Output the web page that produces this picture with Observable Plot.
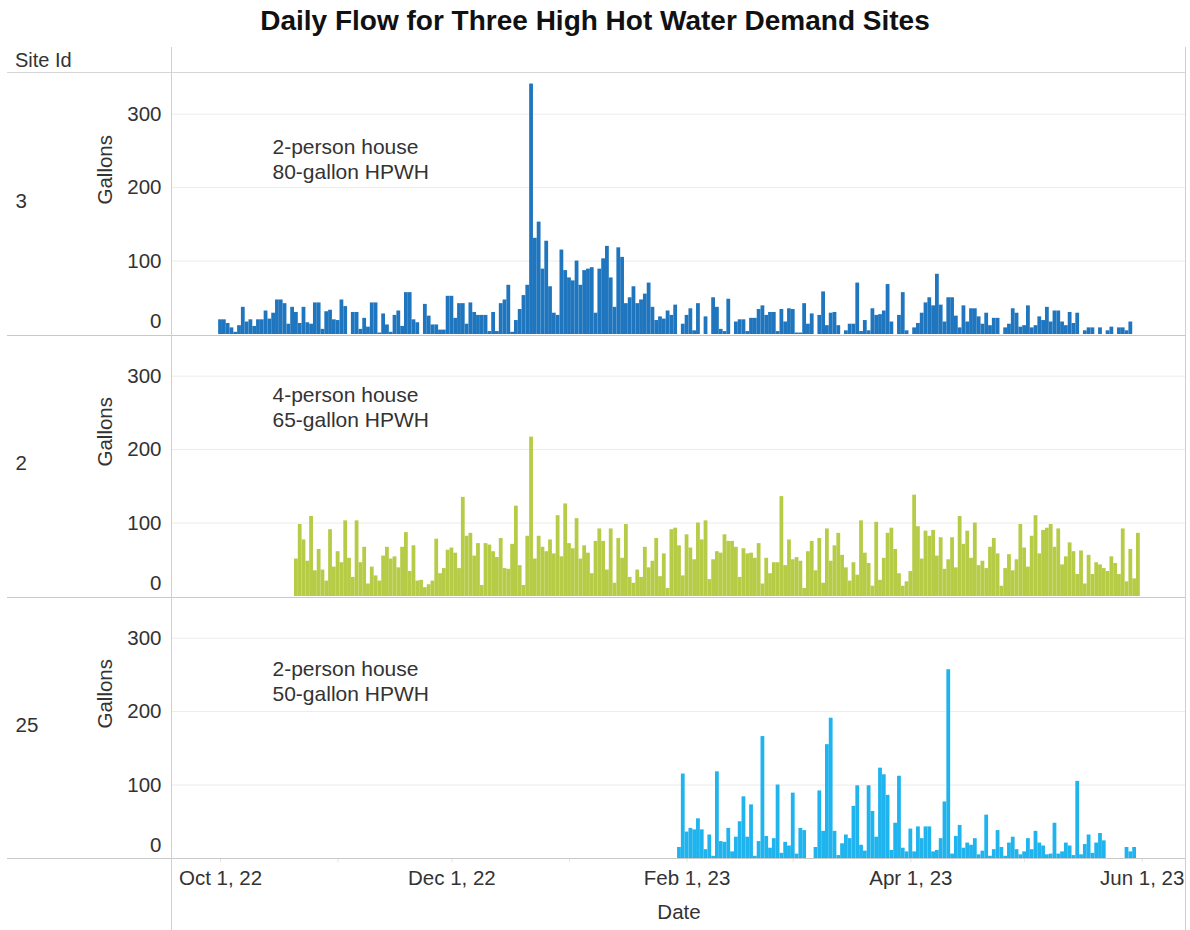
<!DOCTYPE html>
<html>
<head>
<meta charset="utf-8">
<script src="https://cdn.jsdelivr.net/npm/d3@7"></script>
<script src="https://cdn.jsdelivr.net/npm/@observablehq/plot@0.6"></script>
<style>
  html, body { margin: 0; padding: 0; background: #fff; }
  #title { box-sizing: border-box; height: 45px; padding-top: 5px; line-height: 43px; text-align: center;
           font: bold 28px "Liberation Sans", Arial, sans-serif; color: #111; overflow: hidden; }
  #chart svg { display: block; }
</style>
</head>
<body>
<div id="title">Daily Flow for Three High Hot Water Demand Sites</div>
<div id="chart"></div>
<script>
// ---------- data ----------
const siteIds = ["3", "2", "25"];
const siteStarts = ["2022-10-01", "2022-10-21", "2023-01-30"];
const siteColors = ["#1f76be", "#b6cc47", "#20b4ee"];
const siteNotes = ["2-person house\n80-gallon HPWH", "4-person house\n65-gallon HPWH", "2-person house\n50-gallon HPWH"];

// daily gallons, one value per day from the site's start date (null = no reading)
const site3Gallons = [
  20,20,15,9,3,12,37,17,20,11,
  20,20,32,21,29,47,47,42,14,37,
  30,15,37,16,14,43,43,7,31,33,
  20,19,47,38,null,30,30,7,22,10,
  43,43,2,28,13,3,26,32,11,57,
  57,20,16,null,41,25,13,13,6,6,
  52,52,22,42,42,14,43,30,26,26,
  26,4,30,4,42,47,67,3,19,34,
  53,67,341,131,153,89,127,65,29,26,
  115,87,77,73,100,67,87,89,91,29,
  89,103,120,77,37,118,105,42,50,65,
  42,47,55,70,37,19,24,21,32,26,
  40,null,14,26,35,5,42,null,24,null,
  50,37,7,4,48,null,17,20,20,4,
  22,22,34,39,26,30,30,4,34,17,35,
  34,2,2,42,14,28,null,26,58,12,
  29,30,12,
  null,5,14,14,70,4,19,5,35,26,
  27,32,68,17,null,26,57,5,null,9,
  15,29,43,50,39,82,40,17,50,50,
  25,9,39,17,35,35,24,14,29,12,
  22,22,null,9,14,35,29,10,12,39,
  9,12,24,19,37,17,32,32,17,12,
  30,15,29,null,5,9,9,null,9,null,
  5,10,null,9,9,5,17
];
const site2Gallons = [
  51,98,77,48,109,35,64,36,21,91,
  40,61,46,103,52,26,103,46,67,17,
  40,28,21,55,67,51,54,39,67,87,
  34,69,21,22,12,16,21,78,31,38,
  63,66,59,38,135,82,86,55,72,15,
  72,70,61,53,79,38,37,71,123,42,
  15,82,217,51,82,67,61,77,58,110,
  54,126,72,65,106,51,69,59,31,75,
  92,75,36,92,18,79,52,98,26,18,
  36,26,67,39,48,79,27,58,11,91,
  93,69,28,84,66,50,100,77,103,23,
  50,61,59,84,75,75,67,26,65,58,
  59,52,72,17,52,31,46,46,
  136,42,77,
  50,53,48,11,61,75,35,79,18,92,
  48,69,86,56,39,21,46,29,103,59,
  45,14,101,22,52,86,93,64,31,14,
  20,34,138,95,51,89,82,90,55,80,
  37,50,80,39,109,71,89,52,100,42,
  48,38,67,79,58,14,38,57,35,50,
  98,66,40,82,110,58,90,93,98,67,
  92,43,54,73,61,30,62,17,56,30,
  46,43,38,34,54,45,30,92,20,64,
  24,86
];
const site25Gallons = [
  15,115,36,41,39,54,39,12,32,3,
  118,23,22,41,9,29,50,84,29,73,
  3,23,166,30,14,27,100,7,22,17,
  89,6,41,38,null,null,15,92,37,155,
  191,37,4,20,32,27,71,99,18,10,
  99,64,29,123,114,86,11,48,112,14,
  9,40,9,43,27,43,43,9,11,27,
  77,257,6,30,45,14,21,18,27,5,
  10,59,3,12,38,15,3,21,29,12,
  5,9,27,12,37,21,17,5,6,48,
  6,9,21,17,4,105,5,19,32,7,
  21,34,24,null,null,null,null,null,15,9,
  15
];

const yTicks = [0, 100, 200, 300];
const xLabelDates = ["2022-10-01", "2022-12-01", "2023-02-01", "2023-04-01", "2023-06-01"];
const xDomain = ["2022-09-18T08:00:00Z", "2023-06-12T10:00:00Z"];

// ---------- table ----------
const DAY = 864e5;
const seriesList = [site3Gallons, site2Gallons, site25Gallons];
const rows = [];
siteIds.forEach((id, i) => {
  const start = new Date(siteStarts[i] + "T00:00:00Z");
  seriesList[i].forEach((v, k) => {
    if (v != null) rows.push({site: id, date: new Date(+start + k * DAY), gallons: v});
  });
});

// ---------- chart ----------
const FONT = '"Liberation Sans", Arial, sans-serif';
const fmt = d3.utcFormat("%b %-d, %y");
const noteDy = [61, 47, 59];

const plot = Plot.plot({
  width: 1190,
  height: 885,
  marginLeft: 172,
  marginRight: 5,
  marginTop: 28,
  marginBottom: 71,
  style: {fontFamily: FONT, fontSize: "20px", color: "#333", background: "#fff", overflow: "visible"},
  x: {type: "utc", domain: xDomain.map(d => new Date(d))},
  y: {domain: [0, 354]},
  fy: {domain: siteIds, axis: null, paddingInner: 0.0095, paddingOuter: 0},
  color: {domain: siteIds, range: siteColors},
  marks: [
    Plot.gridY(yTicks.slice(1), {stroke: "#ececec", strokeOpacity: 1}),
    Plot.rect(rows, {
      x1: d => new Date(+d.date - DAY / 2),
      x2: d => new Date(+d.date + DAY / 2),
      y1: 0,
      y2: "gallons",
      fy: "site",
      fill: "site"
    }),
    Plot.axisY(yTicks.slice(1), {tickSize: 0, tickPadding: 11, fontSize: 20.5, label: null, fill: "#333"}),
    Plot.axisY([yTicks[0]], {tickSize: 0, tickPadding: 11, dy: -13, fontSize: 20.5, label: null, fill: "#333"}),
    Plot.text(["Gallons"], {frameAnchor: "left", rotate: -90, dx: -67, fontSize: 20.5, fill: "#333"}),
    Plot.text(siteIds, {fy: d => d, text: d => d, frameAnchor: "left", dx: -157, dy: -3, textAnchor: "start", fontSize: 20.5, fill: "#333"}),
    ...siteIds.map((id, i) => Plot.text([siteNotes[i]], {
      fy: [id], text: d => d, frameAnchor: "top-left", dx: 100, dy: noteDy[i],
      textAnchor: "start", lineAnchor: "top", lineHeight: 1.22, fontSize: 21, fill: "#333"
    })),
    Plot.axisX({ticks: "month", tickSize: 4, tickFormat: () => "", stroke: "#e2e2e2", label: null}),
    Plot.axisX(xLabelDates.map(d => new Date(d + "T00:00:00Z")), {
      tickSize: 0, tickPadding: 12, tickFormat: fmt, fontSize: 20.5, label: null, fill: "#333"
    }),
    Plot.text([{site: "25", label: "Date"}], {fy: "site", text: "label", frameAnchor: "bottom", lineAnchor: "top", dy: 46, fontSize: 20.5, fill: "#333"})
  ]
});

document.getElementById("chart").appendChild(plot);

// ---------- table chrome (Tableau-like header and dividers) ----------
const svg = d3.select(plot);
const fyS = plot.scale("fy");
const [r0, r1] = d3.extent(fyS.range);
const bw = fyS.bandwidth != null ? fyS.bandwidth : (r1 - r0) / siteIds.length;
const tops = siteIds.map(id => fyS.apply(id));
const chrome = svg.append("g").attr("shape-rendering", "crispEdges");
const hline = (y, color) => chrome.append("line").attr("x1", 7).attr("x2", 1185)
  .attr("y1", Math.round(y) + 0.5).attr("y2", Math.round(y) + 0.5).attr("stroke", color);
hline(27, "#d6d6d6");
tops.forEach((t, i) => {
  if (i < tops.length - 1) hline((t + bw + tops[i + 1]) / 2, "#c8c8c8");
  else hline(t + bw, "#c8c8c8");
});
chrome.append("line").attr("x1", 171.5).attr("x2", 171.5).attr("y1", 2).attr("y2", 885).attr("stroke", "#d0d0d0");
chrome.append("line").attr("x1", 1185.5).attr("x2", 1185.5).attr("y1", 2).attr("y2", 885).attr("stroke", "#d0d0d0");
svg.append("text").attr("x", 15).attr("y", 15).attr("dy", "0.35em").attr("text-anchor", "start")
  .attr("font-family", FONT).attr("font-size", 20).attr("fill", "#333").text("Site Id");
</script>
</body>
</html>
